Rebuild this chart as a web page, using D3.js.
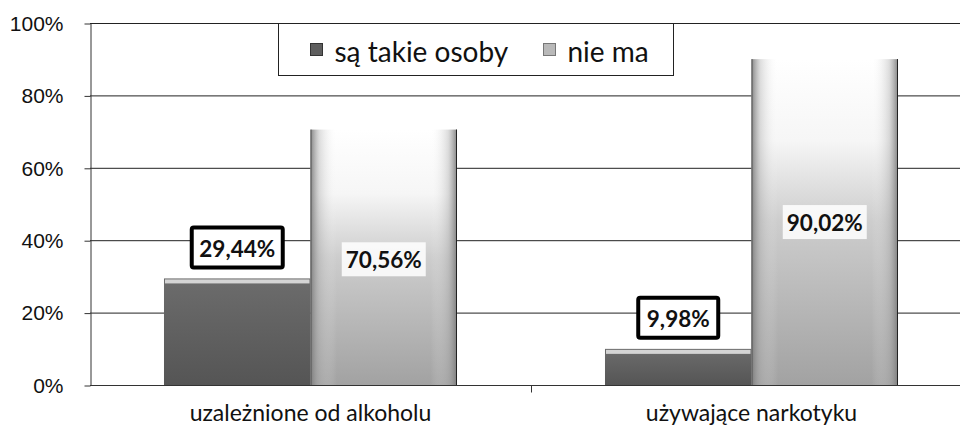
<!DOCTYPE html>
<html>
<head>
<meta charset="utf-8">
<script src="https://cdn.jsdelivr.net/npm/d3@7"></script>
<style>
	body { margin: 0; background: #fff; }
	svg { display: block; font-family: Lato, "Open Sans", sans-serif; }
	.grid line { stroke: #222; stroke-width: 1; }
	.axis path, .axis line { stroke: #333; }
	.axis text { fill: #111; }
</style>
</head>
<body>
<svg id="chart" width="960" height="429"></svg>
<script>
var categories = ['uzależnione od alkoholu', 'używające narkotyku'];
var series = ['są takie osoby', 'nie ma'];
var jest = [29.44, 9.98];
var nieMa = [70.56, 90.02];
var yTicks = [0, 20, 40, 60, 80, 100];

var svg = d3.select('#chart');
var margin = {left: 90, right: -12, top: 23, bottom: 44};
var W = 960, H = 429;

var x = d3.scaleBand()
	.domain(categories)
	.range([margin.left, W - margin.right])
	.paddingInner(0)
	.paddingOuter(0);
var inner = d3.scaleBand()
	.domain(series)
	.range([0, x.bandwidth()])
	.paddingOuter(0.505)
	.paddingInner(0);
var y = d3.scaleLinear()
	.domain([0, 100])
	.range([H - margin.bottom, margin.top]);

var defs = svg.append('defs');
var gv = defs.append('linearGradient').attr('id', 'lightV')
	.attr('x1', 0).attr('y1', 0).attr('x2', 0).attr('y2', 1);
gv.append('stop').attr('offset', '0%').attr('stop-color', '#ffffff');
gv.append('stop').attr('offset', '25%').attr('stop-color', '#f6f6f6');
gv.append('stop').attr('offset', '50%').attr('stop-color', '#cdcdcd');
gv.append('stop').attr('offset', '100%').attr('stop-color', '#a2a2a2');
var gh = defs.append('linearGradient').attr('id', 'lightH')
	.attr('x1', 0).attr('y1', 0).attr('x2', 1).attr('y2', 0);
gh.append('stop').attr('offset', '0%').attr('stop-color', '#777').attr('stop-opacity', 0.9);
gh.append('stop').attr('offset', '6%').attr('stop-color', '#aaa').attr('stop-opacity', 0.4);
gh.append('stop').attr('offset', '18%').attr('stop-color', '#fff').attr('stop-opacity', 0);
gh.append('stop').attr('offset', '82%').attr('stop-color', '#fff').attr('stop-opacity', 0);
gh.append('stop').attr('offset', '94%').attr('stop-color', '#aaa').attr('stop-opacity', 0.4);
gh.append('stop').attr('offset', '100%').attr('stop-color', '#777').attr('stop-opacity', 0.9);
var gd = defs.append('linearGradient').attr('id', 'darkV')
	.attr('x1', 0).attr('y1', 0).attr('x2', 0).attr('y2', 1);
gd.append('stop').attr('offset', '0%').attr('stop-color', '#6c6c6c');
gd.append('stop').attr('offset', '100%').attr('stop-color', '#555555');

// grid
svg.append('g').attr('class', 'grid')
	.selectAll('line')
	.data(yTicks.filter(function(d){ return d > 0; }))
	.enter()
	.append('line')
	.attr('x1', margin.left)
	.attr('x2', W)
	.attr('y1', function(d){ return y(d) + 0.5; })
	.attr('y2', function(d){ return y(d) + 0.5; });

// bars
var groups = svg.selectAll('.cat')
	.data(categories)
	.enter()
	.append('g')
	.attr('class', 'cat')
	.attr('transform', function(d){ return 'translate(' + x(d) + ',0)'; });

groups.append('rect')
	.attr('x', inner(series[0]))
	.attr('width', inner.bandwidth())
	.attr('y', function(d, i){ return y(jest[i]); })
	.attr('height', function(d, i){ return y(0) - y(jest[i]); })
	.attr('fill', 'url(#darkV)');
groups.append('rect')
	.attr('x', inner(series[0]) + 1)
	.attr('width', inner.bandwidth() - 2)
	.attr('y', function(d, i){ return y(jest[i]) + 1; })
	.attr('height', 4)
	.attr('fill', '#d4d4d4');

groups.append('rect')
	.attr('x', inner(series[1]))
	.attr('width', inner.bandwidth())
	.attr('y', function(d, i){ return y(nieMa[i]); })
	.attr('height', function(d, i){ return y(0) - y(nieMa[i]); })
	.attr('fill', 'url(#lightV)');
groups.append('rect')
	.attr('x', inner(series[1]))
	.attr('width', inner.bandwidth())
	.attr('y', function(d, i){ return y(nieMa[i]); })
	.attr('height', function(d, i){ return y(0) - y(nieMa[i]); })
	.attr('fill', 'url(#lightH)');
groups.append('line')
	.attr('x1', inner(series[1]) + 0.5)
	.attr('x2', inner(series[1]) + 0.5)
	.attr('y1', function(d, i){ return y(nieMa[i]); })
	.attr('y2', y(0))
	.attr('stroke', '#555');
groups.append('line')
	.attr('x1', inner(series[1]) + inner.bandwidth() - 0.5)
	.attr('x2', inner(series[1]) + inner.bandwidth() - 0.5)
	.attr('y1', function(d, i){ return y(nieMa[i]); })
	.attr('y2', y(0))
	.attr('stroke', '#222');

// axes
var yAxis = svg.append('g').attr('class', 'axis')
	.attr('transform', 'translate(' + (margin.left + 0.5) + ',0.5)')
	.call(d3.axisLeft(y).tickValues(yTicks).tickSize(6).tickSizeOuter(0)
		.tickFormat(function(d){ return d + '%'; }));
yAxis.selectAll('text').attr('font-size', 21).attr('dx', -18).attr('fill', '#111');

var xAxis = svg.append('g').attr('class', 'axis')
	.attr('transform', 'translate(0,' + (y(0) + 0.5) + ')');
xAxis.append('line')
	.attr('x1', margin.left).attr('x2', W)
	.attr('stroke', '#333');
xAxis.selectAll('.tick')
	.data(categories.slice(1))
	.enter()
	.append('line')
	.attr('x1', function(d){ return x(d) + 0.5; })
	.attr('x2', function(d){ return x(d) + 0.5; })
	.attr('y1', 0).attr('y2', 7)
	.attr('stroke', '#333');
xAxis.selectAll('.cl')
	.data(categories)
	.enter()
	.append('text')
	.attr('x', function(d){ return x(d) + x.bandwidth() / 2; })
	.attr('y', 35)
	.attr('text-anchor', 'middle')
	.attr('font-size', 23)
	.attr('fill', '#111')
	.text(function(d){ return d; });

// data labels
function valueText(g, text, cx, cy){
	return g.append('text')
		.attr('x', cx).attr('y', cy)
		.attr('text-anchor', 'middle')
		.attr('dominant-baseline', 'central')
		.attr('font-size', 22.5)
		.attr('font-weight', 'bold')
		.attr('fill', '#111')
		.text(text);
}
var fmt = function(v){ return v.toFixed(2).replace('.', ',') + '%'; };

groups.each(function(d, i){
	var g = d3.select(this);
	var cx = inner(series[0]) + inner.bandwidth() / 2;
	var cy = y(jest[i]) - 31;
	var bw = i === 0 ? 95 : 84;
	g.append('rect')
		.attr('x', cx - bw / 2 + 2).attr('y', cy - 20)
		.attr('width', bw - 4).attr('height', 40)
		.attr('fill', '#fff')
		.attr('stroke', '#000').attr('stroke-width', 4)
		.attr('rx', 2);
	valueText(g, fmt(jest[i]), cx, cy + 1);

	var lx = inner(series[1]) + inner.bandwidth() / 2;
	var ly = (y(nieMa[i]) + y(0)) / 2 + (i === 0 ? 2 : 0);
	g.append('rect')
		.attr('x', lx - 42).attr('y', ly - 17)
		.attr('width', 84).attr('height', 34)
		.attr('fill', '#fff').attr('opacity', 0.85);
	valueText(g, fmt(nieMa[i]), lx, ly);
});

// legend
var legend = svg.append('g').attr('transform', 'translate(278.5,23.5)');
legend.append('rect')
	.attr('width', 395).attr('height', 52)
	.attr('fill', '#fff').attr('stroke', '#222');
var items = legend.selectAll('.li')
	.data(series)
	.enter()
	.append('g')
	.attr('transform', function(d, i){ return 'translate(' + (i === 0 ? 32 : 265) + ',26)'; });
items.append('rect')
	.attr('x', 0).attr('y', -6)
	.attr('width', 12).attr('height', 12)
	.attr('fill', function(d, i){ return i === 0 ? '#5e5e5e' : '#b9b9b9'; })
	.attr('stroke', function(d, i){ return i === 0 ? '#333' : '#777'; });
items.append('text')
	.attr('x', 24).attr('y', 1)
	.attr('dominant-baseline', 'central')
	.attr('font-size', 28)
	.attr('fill', '#111')
	.text(function(d){ return d; });
</script>
</body>
</html>
